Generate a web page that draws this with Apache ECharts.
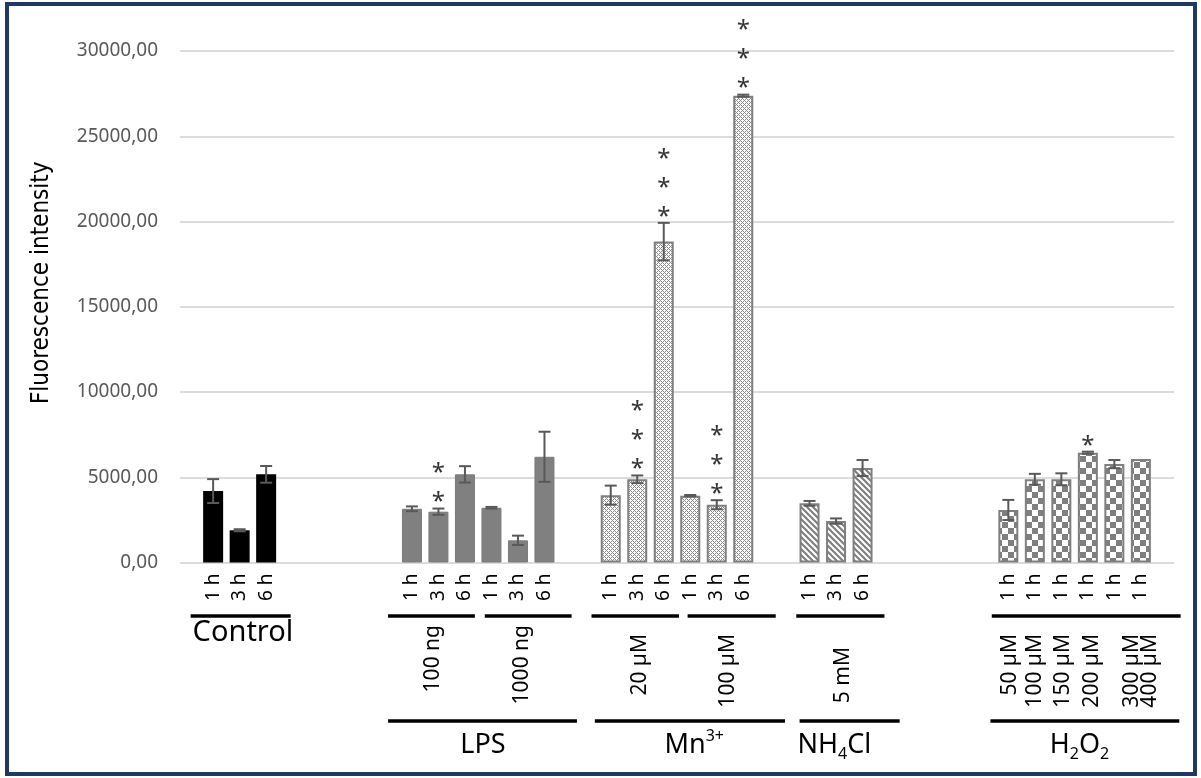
<!DOCTYPE html>
<html><head><meta charset="utf-8">
<script src="https://cdn.jsdelivr.net/npm/echarts@6/dist/echarts.min.js"></script>
<style>html,body{margin:0;padding:0;background:#fff}#c{width:1201px;height:778px}</style>
</head><body><div id="c"></div>
<script>
// ---------------- data ----------------
const yMin = 0, yMax = 30000, yStep = 5000;
const yTitle = 'Fluorescence intensity';

const controlTimes = ['1 h', '3 h', '6 h'];
const controlMean  = [4190, 1890, 5170];
const controlErr   = [700, 60, 490];
const controlStars = [0, 0, 0];

const lpsTimes = ['1 h', '3 h', '6 h', '1 h', '3 h', '6 h'];
const lpsMean  = [3150, 2980, 5170, 3210, 1300, 6200];
const lpsErr   = [140, 185, 480, 50, 275, 1470];
const lpsStars = [0, 2, 0, 0, 0, 0];

const mnTimes = ['1 h', '3 h', '6 h', '1 h', '3 h', '6 h'];
const mnMean  = [3950, 4880, 18820, 3920, 3390, 27380];
const mnErr   = [560, 225, 1100, 40, 265, 60];
const mnStars = [0, 3, 3, 0, 3, 3];

const nh4Times = ['1 h', '3 h', '6 h'];
const nh4Mean  = [3470, 2430, 5540];
const nh4Err   = [140, 155, 470];
const nh4Stars = [0, 0, 0];

const h2o2Times = ['1 h', '1 h', '1 h', '1 h', '1 h', '1 h'];
const h2o2Mean  = [3080, 4880, 4880, 6440, 5770, 6070];
const h2o2Err   = [590, 320, 350, 60, 240, 0];
const h2o2Stars = [0, 0, 0, 1, 0, 0];

const controlName = 'Control';
const lpsDoses  = ['100 ng', '1000 ng'];
const mnDoses   = ['20 µM', '100 µM'];
const nh4Doses  = ['5 mM'];
const h2o2Doses = ['50 µM', '100 µM', '150 µM', '200 µM', '300 µM', '400 µM'];
const treatmentNames = ['LPS', 'Mn{sup|3+}', 'NH{sub|4}Cl', 'H{sub|2}O{sub|2}'];

// ---------------- layout (half-width category slots) ----------------
const SLOTS = 75;
function makePattern(size, draw) {
  const c = document.createElement('canvas');
  c.width = c.height = size;
  const g = c.getContext('2d');
  g.fillStyle = '#ffffff'; g.fillRect(0, 0, size, size);
  draw(g);
  return { image: c, repeat: 'repeat' };
}
const mnPattern = makePattern(4, g => {
  g.fillStyle = '#8a8a8a';
  for (let x = 0; x < 4; x++) for (let y = 0; y < 4; y++)
    if ((x + y) % 4 === 0 || (x - y + 4) % 4 === 0) g.fillRect(x, y, 1, 1);
});
const stripePattern = makePattern(6, g => {
  g.strokeStyle = '#7f7f7f'; g.lineWidth = 2.2;
  g.beginPath();
  g.moveTo(-2, -2); g.lineTo(8, 8);
  g.moveTo(-8, -2); g.lineTo(2, 8);
  g.moveTo(4, -2); g.lineTo(14, 8);
  g.stroke();
});
const checkPattern = makePattern(12, g => {
  g.fillStyle = '#7f7f7f';
  g.fillRect(0, 0, 6, 6); g.fillRect(6, 6, 6, 6);
});

const groups = [
  { times: controlTimes, mean: controlMean, err: controlErr, stars: controlStars, start: 2,
    style: { color: '#000000' } },
  { times: lpsTimes, mean: lpsMean, err: lpsErr, stars: lpsStars, start: 17,
    style: { color: '#808080', borderColor: '#7a7a7a', borderWidth: 1 } },
  { times: mnTimes, mean: mnMean, err: mnErr, stars: mnStars, start: 32,
    style: { color: mnPattern, borderColor: '#7f7f7f', borderWidth: 2 } },
  { times: nh4Times, mean: nh4Mean, err: nh4Err, stars: nh4Stars, start: 47,
    style: { color: stripePattern, borderColor: '#7f7f7f', borderWidth: 2 } },
  { times: h2o2Times, mean: h2o2Mean, err: h2o2Err, stars: h2o2Stars, start: 62,
    style: { color: checkPattern, borderColor: '#7f7f7f', borderWidth: 2 } }
];

const labels = new Array(SLOTS).fill('');
const errData = [], starData = [];
const barSeries = groups.map(gp => {
  const arr = new Array(SLOTS).fill('-');
  gp.mean.forEach((m, i) => {
    const idx = gp.start + 2 * i;
    arr[idx] = m;
    labels[idx] = gp.times[i];
    errData.push([idx, m, gp.err[i]]);
    if (gp.stars[i]) starData.push([idx, m + gp.err[i], gp.stars[i]]);
  });
  return { type: 'bar', data: arr, barWidth: 20, barGap: '-100%', itemStyle: gp.style, z: 2,
    emphasis: { disabled: true } };
});

const FONT = "'Noto Sans', 'Open Sans', sans-serif";

const chart = echarts.init(document.getElementById('c'), null, { renderer: 'canvas' });
chart.setOption({
  animation: false,
  backgroundColor: '#ffffff',
  grid: { left: 180, right: 27, top: 51, bottom: 215.5 },
  xAxis: {
    type: 'category', data: labels,
    axisLine: { show: false }, axisTick: { show: false },
    axisLabel: { interval: 0, rotate: 90, margin: 11, fontSize: 19, color: '#000', fontFamily: FONT,
      padding: [0, 0, 8, 0] }
  },
  yAxis: {
    type: 'value', min: yMin, max: yMax, interval: yStep,
    name: yTitle, nameLocation: 'middle', nameRotate: 90, nameGap: 126,
    nameTextStyle: { fontSize: 24, color: '#000',
      fontFamily: "'Liberation Sans Narrow', 'DejaVu Sans Condensed', 'Noto Sans', sans-serif",
      padding: [0, 0, 0, 48] },
    axisLine: { show: false }, axisTick: { show: false },
    axisLabel: { margin: 22, fontSize: 19, color: '#595959', fontFamily: FONT,
      formatter: v => v.toFixed(2).replace('.', ',') },
    splitLine: { lineStyle: { color: '#dcdcdc', width: 2 } }
  },
  series: barSeries.concat([
    {
      type: 'custom', z: 5, data: errData,
      renderItem: (params, api) => {
        const i = api.value(0), m = api.value(1), e = api.value(2);
        if (!e) return null;
        const t = api.coord([i, m + e]), b = api.coord([i, m - e]);
        const hw = 6, st = { stroke: '#595959', lineWidth: 2 };
        return { type: 'group', children: [
          { type: 'line', shape: { x1: t[0], y1: t[1], x2: b[0], y2: b[1] }, style: st },
          { type: 'line', shape: { x1: t[0] - hw, y1: t[1], x2: t[0] + hw, y2: t[1] }, style: st },
          { type: 'line', shape: { x1: b[0] - hw, y1: b[1], x2: b[0] + hw, y2: b[1] }, style: st }
        ] };
      }
    },
    {
      type: 'scatter', data: starData, symbolSize: 1, itemStyle: { color: 'rgba(0,0,0,0)' }, z: 6,
      label: { show: true, position: 'top', distance: 0, offset: [0, 9], color: '#000',
        fontSize: 24, lineHeight: 29, fontFamily: FONT,
        formatter: p => new Array(p.value[2]).fill('*').join('\n') }
    }
  ])
});

// ---------------- bracket annotations (positions in slot units) ----------------
const row1Lines = [[0.3, 7.85], [15.2, 21.75], [22.5, 29.05], [30.55, 37.15], [37.8, 44.45], [46.0, 52.65], [60.75, 75.0]];
const row2Lines = [[15.2, 29.45], [30.8, 45.15], [46.25, 53.8], [60.65, 74.9]];
const doseLabels = [
  { text: lpsDoses[0], at: 18.6, top: 625 }, { text: lpsDoses[1], at: 25.28, top: 625 },
  { text: mnDoses[0], at: 34.21, top: 634 }, { text: mnDoses[1], at: 40.87, top: 634 },
  { text: nh4Doses[0], at: 49.55, top: 647 },
  { text: h2o2Doses[0], at: 62.13, top: 634 }, { text: h2o2Doses[1], at: 64.0, top: 634 },
  { text: h2o2Doses[2], at: 66.1, top: 634 }, { text: h2o2Doses[3], at: 68.3, top: 634 },
  { text: h2o2Doses[4], at: 71.3, top: 634 }, { text: h2o2Doses[5], at: 72.7, top: 634 }
];
const nameLabels = [
  { text: controlName, at: 4.25, y: 633 },
  { text: treatmentNames[0], at: 22.36, y: 745 },
  { text: treatmentNames[1], at: 38.3, y: 745 },
  { text: treatmentNames[2], at: 48.88, y: 745 },
  { text: treatmentNames[3], at: 67.37, y: 745 }
];
const p0 = chart.convertToPixel({ xAxisIndex: 0 }, 0);
const band = chart.convertToPixel({ xAxisIndex: 0 }, 1) - p0;
const px = f => p0 + f * band;

const graphics = [];
row1Lines.forEach(([a, b]) => graphics.push({ type: 'line', shape: { x1: px(a), y1: 616, x2: px(b), y2: 616 },
  style: { stroke: '#000', lineWidth: 3.5 } }));
row2Lines.forEach(([a, b]) => graphics.push({ type: 'line', shape: { x1: px(a), y1: 721, x2: px(b), y2: 721 },
  style: { stroke: '#000', lineWidth: 3.5 } }));
doseLabels.forEach(d => graphics.push({ type: 'text', x: px(d.at), y: d.top, rotation: Math.PI / 2,
  style: { text: d.text, font: '21px ' + FONT, fill: '#000', align: 'right', verticalAlign: 'middle' } }));
nameLabels.forEach((d, k) => graphics.push({ type: 'text', x: px(d.at), y: d.y,
  style: { text: d.text, fontSize: k === 0 ? 29 : 27, fontFamily: FONT, fill: '#000', align: 'center', verticalAlign: 'middle',
    lineHeight: 34,
    rich: { sup: { fontSize: 16, fontFamily: FONT, verticalAlign: 'top', lineHeight: 16 },
            sub: { fontSize: 16, fontFamily: FONT, verticalAlign: 'bottom', lineHeight: 16 } } } }));
graphics.push({ type: 'rect', shape: { x: 7, y: 4, width: 1188, height: 770 },
  style: { fill: null, stroke: '#1f3864', lineWidth: 4 }, z: 100 });
chart.setOption({ graphic: graphics });
</script>
</body></html>
